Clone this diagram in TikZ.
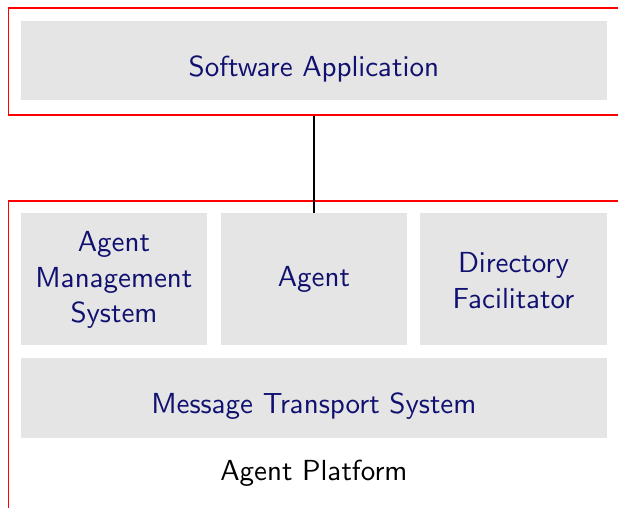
\documentclass[tikz,border=0pt]{standalone}
\font\bigss=cmss10 at 29pt
\begin{document}
\begin{tikzpicture}[x=1pt,y=-1pt,
  every node/.style={font=\bigss},
  comp/.style={fill=black!10, draw=none, inner sep=0pt},
  lbl/.style={inner sep=0pt, anchor=base, text=textblue},
  frame/.style={draw=red, line width=1.8pt, fill=none, inner sep=0pt}]
\definecolor{textblue}{RGB}{16,16,112}
\useasboundingbox (0,0) rectangle (618,508);
\clip (0,0) rectangle (618,508);
\node[frame, minimum width=640-7.5, minimum height=114-7.5, anchor=north west] (app) at (7.5,7.5) {};
\node[frame, minimum width=640-7.5, minimum height=540-200, anchor=north west] (plat) at (7.5,200) {};
\node[comp, minimum width=586, minimum height=79] (sw) at (314,60.5) {};
\node[comp, minimum width=186, minimum height=132] (ams) at (114,279) {};
\node[comp, minimum width=186, minimum height=132] (agent) at (314,279) {};
\node[comp, minimum width=187, minimum height=132] (df) at (513.5,279) {};
\node[comp, minimum width=586, minimum height=80] (mts) at (314,398) {};
\node[lbl] (swt) at (sw.center |- 0,76.5) {Software Application};
\node[lbl] (amst1) at (ams.center |- 0,251) {Agent};
\node[lbl] (amst2) at (ams.center |- 0,287) {Management};
\node[lbl] (amst3) at (ams.center |- 0,322.5) {System};
\node[lbl] (agentt) at (agent.center |- 0,286.7) {Agent};
\node[lbl] (dft1) at (df.center |- 0,272.3) {Directory};
\node[lbl] (dft2) at (df.center |- 0,308) {Facilitator};
\node[lbl] (mtst) at (mts.center |- 0,413.3) {Message Transport System};
\node[lbl, text=black] (plattext) at (314,480.7) {Agent Platform};
\draw[line width=1.5pt] (agent.north) -- (agent.north |- app.south);
\end{tikzpicture}
\end{document}
